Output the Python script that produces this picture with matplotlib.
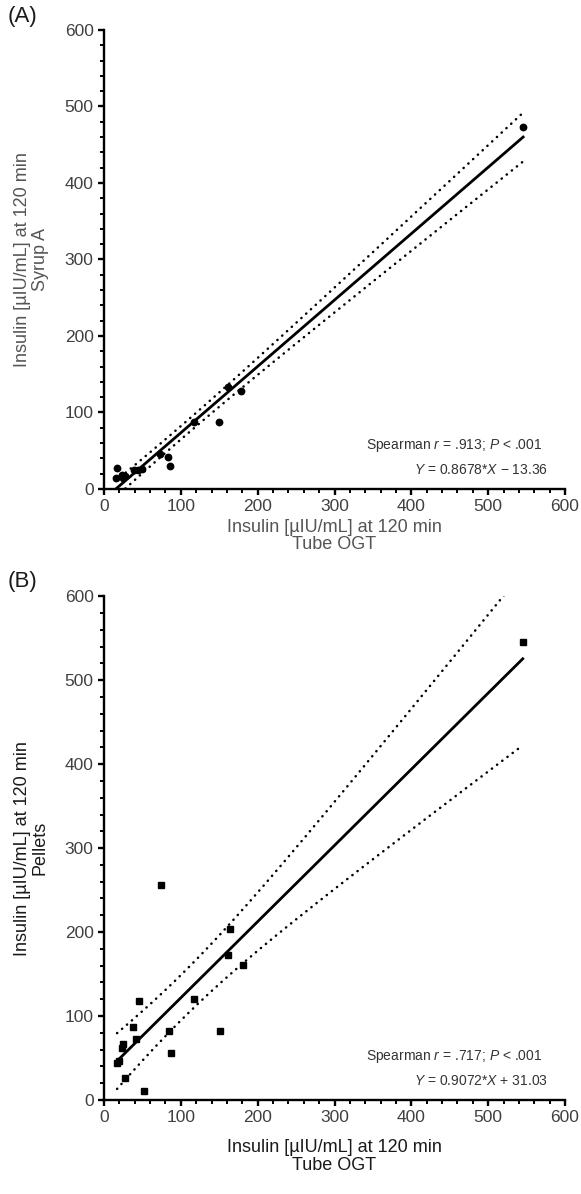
import numpy as np
import matplotlib
matplotlib.use('Agg')
import matplotlib.pyplot as plt
from matplotlib.ticker import MultipleLocator

plt.rcParams['font.family'] = ['Liberation Sans', 'DejaVu Sans']
plt.rcParams['mathtext.fontset'] = 'custom'
plt.rcParams['mathtext.rm'] = 'Liberation Sans'
plt.rcParams['mathtext.it'] = 'Liberation Sans:italic'

# insulin at 120 min, tube OGT (x) vs syrup A (y)
tube_a = [15.2, 17.4, 23.5, 24.3, 27.0, 39.1, 44.3, 50.0, 72.6, 83.0, 86.5,
          116.5, 149.6, 160.9, 178.3, 545.5]
syrup = [14.3, 27.0, 18.7, 14.3, 17.4, 24.8, 25.2, 26.0, 45.7, 42.2, 30.4,
         87.4, 87.0, 133.9, 127.4, 473.5]

# insulin at 120 min, tube OGT (x) vs pellets (y)
tube_b = [17.0, 19.0, 23.5, 24.4, 27.9, 38.3, 41.8, 45.8, 51.9, 73.7, 84.5,
          87.6, 117.6, 151.2, 161.2, 163.4, 180.4, 545.0]
pellets = [43.9, 46.5, 61.7, 67.0, 26.1, 87.0, 73.0, 117.8, 10.9, 256.0, 82.6,
           56.5, 120.4, 82.2, 173.0, 203.9, 160.9, 546.0]

# fitted lines and stats
fit_a = (0.8678, -13.36)
fit_b = (0.9072, 31.03)
stats_a = ['Spearman $\\it{r}$ = .913; $\\it{P}$ < .001',
           '$\\it{Y}$ = 0.8678*$\\it{X}$ \u2212 13.36']
stats_b = ['Spearman $\\it{r}$ = .717; $\\it{P}$ < .001',
           '$\\it{Y}$ = 0.9072*$\\it{X}$ + 31.03']

# two-sided 95% t quantiles by degrees of freedom
T975 = {14: 2.145, 15: 2.131, 16: 2.120, 17: 2.110, 18: 2.101}


def draw_panel(ax, x, y, fit, marker, stats, ylab, lab_color, tag, xlab_y):
    x = np.asarray(x)
    y = np.asarray(y)
    slope, icpt = fit
    n = len(x)

    # 95% confidence band of the regression line
    resid = y - (slope * x + icpt)
    s = np.sqrt(np.sum(resid ** 2) / (n - 2))
    sxx = np.sum((x - x.mean()) ** 2)
    xs = np.linspace(x.min(), x.max(), 200)
    ys = slope * xs + icpt
    half = T975[n - 2] * s * np.sqrt(1.0 / n + (xs - x.mean()) ** 2 / sxx)

    ax.plot(xs, ys, color='black', lw=2.0, zorder=3)
    for band in (ys + half, ys - half):
        ax.plot(xs, band, color='black', lw=1.8,
                linestyle=(0, (0.1, 2.5)), dash_capstyle='round', zorder=3)
    ax.plot(x, y, linestyle='none', marker=marker, color='black',
            ms=4.6, zorder=4)

    ax.set_xlim(0, 600)
    ax.set_ylim(0, 600)
    ax.xaxis.set_major_locator(MultipleLocator(100))
    ax.yaxis.set_major_locator(MultipleLocator(100))
    ax.xaxis.set_minor_locator(MultipleLocator(20))
    ax.yaxis.set_minor_locator(MultipleLocator(20))
    for side in ('top', 'right'):
        ax.spines[side].set_visible(False)
    for side in ('left', 'bottom'):
        ax.spines[side].set_linewidth(1.7)
    ax.tick_params(which='major', length=4.5, width=1.7, labelsize=12.5,
                   labelcolor='#404040', pad=3)
    ax.tick_params(which='minor', length=3, width=1.4)

    ax.set_xlabel('Insulin [\u00b5IU/mL] at 120 min\nTube OGT', fontsize=13,
                  color=lab_color, linespacing=1.05)
    ax.set_ylabel(ylab, fontsize=13, color=lab_color, linespacing=1.05)
    ax.yaxis.set_label_coords(-0.12, 0.5)
    ax.xaxis.set_label_coords(0.5, xlab_y)

    # stats text just above the x axis, lower right
    ax.annotate(stats[0], xy=(571, 0), xytext=(0, 31), textcoords='offset points',
                ha='right', va='center', fontsize=10, color='#333333',
                annotation_clip=False)
    ax.annotate(stats[1], xy=(578, 0), xytext=(0, 13.5), textcoords='offset points',
                ha='right', va='center', fontsize=10, color='#333333',
                annotation_clip=False)

    ax.text(-0.21, 1.03, tag, transform=ax.transAxes, fontsize=16,
            ha='left', va='center', color='#1a1a1a')


fig = plt.figure(figsize=(5.81, 11.94), dpi=100)
ax_a = fig.add_axes([0.179, 0.5905, 0.7935, 0.3844])
ax_b = fig.add_axes([0.179, 0.0787, 0.7935, 0.422])

draw_panel(ax_a, tube_a, syrup, fit_a, 'o', stats_a,
           'Insulin [\u00b5IU/mL] at 120 min\nSyrup A', '#555555', '(A)', -0.065)
draw_panel(ax_b, tube_b, pellets, fit_b, 's', stats_b,
           'Insulin [\u00b5IU/mL] at 120 min\nPellets', '#1a1a1a', '(B)', -0.078)

fig.savefig('out.png', dpi=100)
